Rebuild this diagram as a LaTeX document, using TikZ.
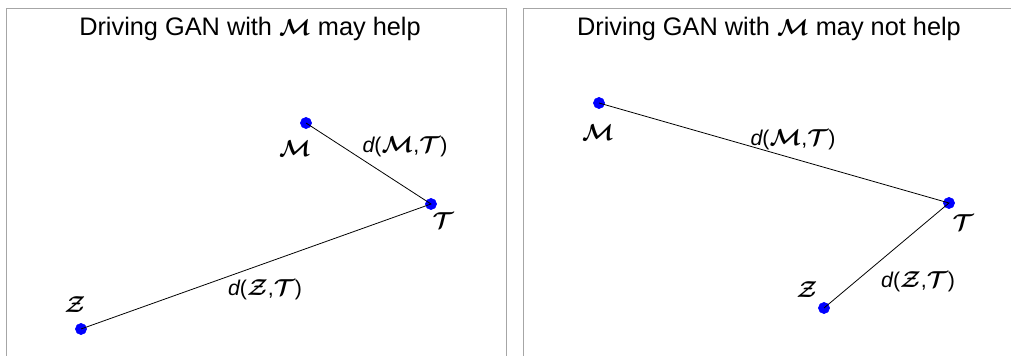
\documentclass[tikz,border=0pt]{standalone}
\usepackage{amsmath, amssymb, bm}
\usepackage{fontspec}
\setmainfont{Liberation Sans}
\usetikzlibrary{positioning}

\newcommand{\calsym}[1]{$\bm{\mathcal{#1}}$}
\newcommand{\dist}[2]{{\itshape d}(\calsym{#1},\calsym{#2})}

\begin{document}
\begin{tikzpicture}[x=0.75pt, y=-0.75pt,
  frame/.style={draw=gray!70, line width=0.75pt},
  pt/.style={fill=blue, draw=blue},
  link/.style={black, line width=0.6pt},
  title/.style={font=\fontsize{19}{21}\selectfont, anchor=base},
  lab/.style={font=\fontsize{16}{18}\selectfont}]
  \useasboundingbox (0,0) rectangle (1011,356);

  \draw[frame] (6,356) -- (6,9) -- (506,9) -- (506,356);
  \draw[frame] (523,356) -- (523,9) -- (1011,9);

  \node[title] (helpT) at (250,36) {Driving GAN with \calsym{M} may help};
  \node[title] (nohelpT) at (769,36) {Driving GAN with \calsym{M} may not help};

  \coordinate (lM) at (306,123);
  \coordinate (lT) at (431,204);
  \coordinate (lZ) at (81,329);
  \filldraw[pt] (lM) circle (4.2pt);
  \filldraw[pt] (lT) circle (4.2pt);
  \filldraw[pt] (lZ) circle (4.2pt);
  \draw[link] (lM) -- (lT) -- (lZ);
  \node[lab] (lMl) at (295,149) {\calsym{M}};
  \node[lab] (lTl) at (443,221) {\calsym{T}};
  \node[lab] (lZl) at (75,305) {\calsym{Z}};
  \node[lab] (lMT) at (405,147) {\dist{M}{T}};
  \node[lab] (lZT) at (265,290) {\dist{Z}{T}};

  \coordinate (rM) at (599,103);
  \coordinate (rT) at (949,203);
  \coordinate (rZ) at (824,308);
  \filldraw[pt] (rM) circle (4.2pt);
  \filldraw[pt] (rT) circle (4.2pt);
  \filldraw[pt] (rZ) circle (4.2pt);
  \draw[link] (rM) -- (rT) -- (rZ);
  \node[lab] (rMl) at (598,133) {\calsym{M}};
  \node[lab] (rTl) at (963,223) {\calsym{T}};
  \node[lab] (rZl) at (807,290) {\calsym{Z}};
  \node[lab] (rMT) at (793,140) {\dist{M}{T}};
  \node[lab] (rZT) at (918,282) {\dist{Z}{T}};
\end{tikzpicture}
\end{document}
